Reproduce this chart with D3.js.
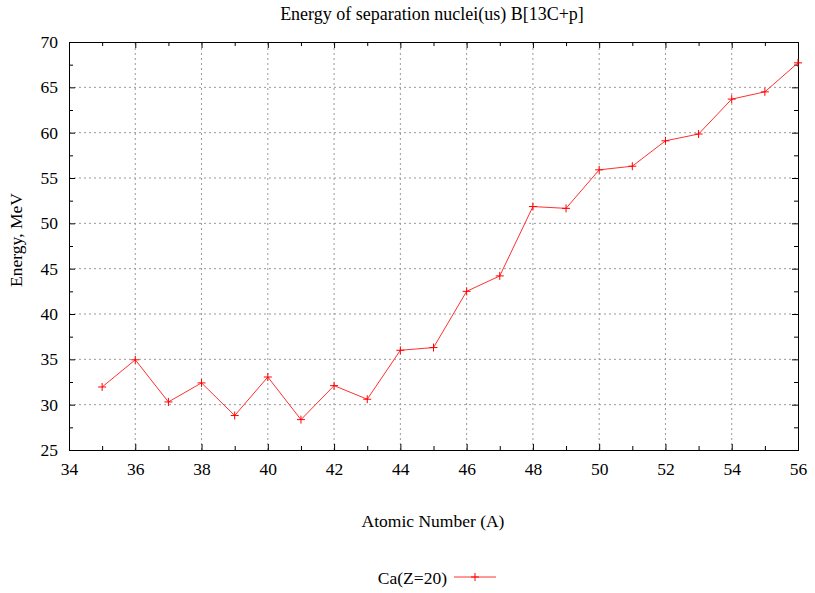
<!DOCTYPE html>
<html>
<head>
<meta charset="utf-8">
<script src="https://cdn.jsdelivr.net/npm/d3@7"></script>
<style>
  body { margin: 0; background: #fff; }
  svg text { font-family: "Liberation Serif", "Times New Roman", serif; fill: #000; }
  .grid line { stroke: #999; stroke-dasharray: 2,3; }
</style>
</head>
<body>
<div id="chart"></div>
<script>
const width = 815, height = 593;

// data
const atomicNumber = [35, 36, 37, 38, 39, 40, 41, 42, 43, 44, 45, 46, 47, 48, 49, 50, 51, 52, 53, 54, 55, 56];
const energy = [31.95, 34.95, 30.3, 32.4, 28.8, 33.05, 28.35, 32.1, 30.6, 36.0, 36.3, 42.5, 44.2, 51.85, 51.65, 55.9, 56.3, 59.1, 59.85, 63.7, 64.5, 67.7];
const xTicks = [34, 36, 38, 40, 42, 44, 46, 48, 50, 52, 54, 56];
const yTicks = [25, 30, 35, 40, 45, 50, 55, 60, 65, 70];
const seriesName = "Ca(Z=20)";

const serif = "'Liberation Serif', 'Times New Roman', serif";
const margin = {left: 69, right: 17, top: 42, bottom: 143};
const x = d3.scaleLinear().domain([34, 56]).range([margin.left, width - margin.right]);
const y = d3.scaleLinear().domain([25, 70]).range([height - margin.bottom, margin.top]);

const svg = d3.select("#chart").append("svg")
    .attr("width", width).attr("height", height)
    .attr("font-family", serif);

const x0 = x.range()[0], x1 = x.range()[1], y0 = y.range()[0], y1 = y.range()[1];

// grid
const grid = svg.append("g").attr("class", "grid");
grid.selectAll(".gx").data(xTicks.slice(1, -1)).join("line")
    .attr("x1", d => x(d)).attr("x2", d => x(d)).attr("y1", y0).attr("y2", y1);
grid.selectAll(".gy").data(yTicks.slice(1, -1)).join("line")
    .attr("y1", d => y(d)).attr("y2", d => y(d)).attr("x1", x0).attr("x2", x1);

// axes, ticks pointing inside, on all four sides
const minorX = d3.range(35, 56, 2), minorY = d3.range(27.5, 70, 5);
svg.append("g").attr("transform", `translate(0,${y0})`)
    .call(d3.axisBottom(x).tickValues(xTicks).tickSize(-6).tickPadding(13))
    .call(g => g.append("g").call(d3.axisBottom(x).tickValues(minorX).tickSize(-4).tickFormat("")));
svg.append("g").attr("transform", `translate(0,${y1})`)
    .call(d3.axisTop(x).tickValues(xTicks).tickSize(-6).tickFormat(""))
    .call(g => g.append("g").call(d3.axisTop(x).tickValues(minorX).tickSize(-4).tickFormat("")));
svg.append("g").attr("transform", `translate(${x0},0)`)
    .call(d3.axisLeft(y).tickValues(yTicks).tickSize(-6).tickPadding(11))
    .call(g => g.append("g").call(d3.axisLeft(y).tickValues(minorY).tickSize(-4).tickFormat("")));
svg.append("g").attr("transform", `translate(${x1},0)`)
    .call(d3.axisRight(y).tickValues(yTicks).tickSize(-6).tickFormat(""))
    .call(g => g.append("g").call(d3.axisRight(y).tickValues(minorY).tickSize(-4).tickFormat("")));

svg.selectAll("g[font-family]").attr("font-family", serif).attr("font-size", 17.5);
svg.selectAll(".domain").attr("stroke", "#000");
svg.selectAll(".tick line").attr("stroke", "#000");

// series
const pts = atomicNumber.map((a, i) => [a, energy[i]]);
svg.append("path").datum(pts)
    .attr("fill", "none").attr("stroke", "#ff3030").attr("stroke-width", 1)
    .attr("d", d3.line().x(d => x(d[0])).y(d => y(d[1])));

svg.selectAll(".mk").data(pts).join("path")
    .attr("transform", d => `translate(${x(d[0])},${y(d[1])})`)
    .attr("d", "M-4,0H4M0,-4V4")
    .attr("stroke", "#ff0000").attr("stroke-width", 1).attr("fill", "none");

// titles
svg.append("text").attr("x", 432).attr("y", 20).attr("text-anchor", "middle")
    .attr("font-size", 18).text("Energy of separation nuclei(us) B[13C+p]");
svg.append("text").attr("x", 433).attr("y", 527).attr("text-anchor", "middle")
    .attr("font-size", 17.5).text("Atomic Number (A)");
svg.append("text").attr("transform", "translate(22,240) rotate(-90)").attr("text-anchor", "middle")
    .attr("font-size", 17.5).text("Energy, MeV");

// legend
const lg = svg.append("g");
lg.append("text").attr("x", 447).attr("y", 584).attr("text-anchor", "end")
    .attr("font-size", 17.5).text(seriesName);
lg.append("line").attr("x1", 454).attr("x2", 496).attr("y1", 577).attr("y2", 577)
    .attr("stroke", "#ff3030");
lg.append("path").attr("transform", "translate(475,577)").attr("d", "M-4,0H4M0,-4V4")
    .attr("stroke", "#ff0000").attr("fill", "none");
</script>
</body>
</html>
